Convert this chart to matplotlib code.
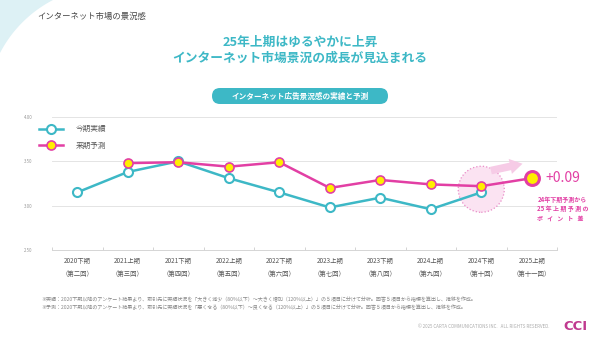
import numpy as np
import matplotlib
matplotlib.use("Agg")
import matplotlib.pyplot as plt
from matplotlib.patches import Polygon, FancyBboxPatch
from matplotlib.transforms import offset_copy, IdentityTransform

plt.rcParams['font.family'] = ['Noto Sans CJK JP', 'DejaVu Sans']

# data
periods = ['2020下期', '2021上期', '2021下期', '2022上期', '2022下期',
           '2023上期', '2023下期', '2024上期', '2024下期', '2025上期']
rounds = ['第二回', '第三回', '第四回', '第五回', '第六回',
          '第七回', '第八回', '第九回', '第十回', '第十一回']
actual = [3.15, 3.38, 3.50, 3.31, 3.15, 2.98, 3.09, 2.96, 3.15, np.nan]
forecast = [np.nan, 3.48, 3.49, 3.44, 3.49, 3.20, 3.29, 3.24, 3.22, 3.31]
yticks = [2.50, 3.00, 3.50, 4.00]

TEAL = '#3DB8C6'
PINK = '#E23FA4'
YELLOW = '#FFEE00'
GRAY = '#555555'

W, H = 600, 345
fig = plt.figure(figsize=(6, 3.45), dpi=100)
fig.patch.set_facecolor('white')

# decorative corner shape: corner minus a big circle (pixel coords, y downward)
c, r = 110, np.hypot(110 - 53, 110)
ang = np.linspace(np.arctan2(-110, 53 - 110), np.arctan2(53 - 110, -110), 60)
arc = [(c + r * np.cos(a), c + r * np.sin(a)) for a in ang]
pts = [(px, H - py) for px, py in [(0, 0)] + arc]
fig.add_artist(Polygon(pts, closed=True, transform=IdentityTransform(),
                       facecolor='#DDF1F5', edgecolor='none', zorder=0))

fig.text(37 / W, 1 - 16 / H, 'インターネット市場の景況感', fontsize=6,
         color='#444444', va='center', ha='left')
fig.text(0.5, 1 - 42 / H, '25年上期はゆるやかに上昇', fontsize=9.2,
         color=TEAL, fontweight='bold', ha='center', va='center')
fig.text(0.5, 1 - 58 / H, 'インターネット市場景況の成長が見込まれる', fontsize=9.2,
         color=TEAL, fontweight='bold', ha='center', va='center')
fig.add_artist(FancyBboxPatch((212, H - 104), 176, 16, transform=IdentityTransform(),
                              boxstyle='round,pad=0,rounding_size=8',
                              facecolor=TEAL, edgecolor='none'))
fig.text(0.5, 1 - 96 / H, 'インターネット広告景況感の実績と予測', fontsize=5.5,
         color='white', fontweight='bold', ha='center', va='center')

ax = fig.add_axes([52 / W, 1 - 250 / H, 505 / W, 133 / H])
x = np.arange(len(periods))

ax.plot(x, actual, color=TEAL, lw=1.8, marker='o', ms=6.5, mfc='white',
        mec=TEAL, mew=1.5, label='今期実績', zorder=3)
ax.plot(x, forecast, color=PINK, lw=1.8, marker='o', ms=6.5, mfc=YELLOW,
        mec=PINK, mew=1.2, label='来期予測', zorder=4)
# last forecast point is drawn larger
ax.plot(x[-1], forecast[-1], marker='o', ms=10, mfc=YELLOW, mec=PINK,
        mew=2.2, zorder=5)

# highlight around 2024下期
mid = (actual[8] + forecast[8]) / 2
ax.scatter([x[8]], [mid], s=1100, facecolor='#FBE3F2', edgecolor='#E98BC7',
           linewidths=0.9, linestyles=':', zorder=2)
tr_a = offset_copy(ax.transData, fig=fig, x=7, y=15, units='dots')
tr_b = offset_copy(ax.transData, fig=fig, x=44, y=23, units='dots')
ax.annotate('', xy=(x[8], forecast[8]), xycoords=tr_b,
            xytext=(x[8], forecast[8]), textcoords=tr_a,
            arrowprops=dict(arrowstyle='simple,head_width=1.1,head_length=0.9,tail_width=0.55',
                            fc='#F6CBE6', ec='none'), zorder=2)

diff = forecast[9] - forecast[8]
ax.annotate(f'+{diff:.2f}', xy=(x[9], forecast[9]), xytext=(10, 0),
            textcoords='offset points', fontsize=10, color=PINK,
            va='center', ha='left', annotation_clip=False)
note = ['24年下期予測から', '25 年 上 期 予 測 の', 'ポ   イ   ン   ト   差']
for i, line in enumerate(note):
    ax.annotate(line, xy=(x[9], forecast[9]), xytext=(4, -15 - i * 7),
                textcoords='offset points', fontsize=4.3, color=PINK,
                fontweight='bold', va='center', ha='left', annotation_clip=False)

ax.set_xlim(-0.5, len(periods) - 0.5)
ax.set_ylim(2.5, 4.0)
ax.set_yticks(yticks)
ax.set_yticklabels([f'{v:.2f}' for v in yticks], fontsize=3.2, color='#999999')
ax.tick_params(axis='y', length=0, pad=14)
ax.grid(axis='y', color='#E4E4E4', lw=0.7)
ax.set_axisbelow(True)

ax.set_xticks(x)
ax.set_xticklabels([f'{p}\n（{r}）' for p, r in zip(periods, rounds)],
                   fontsize=4.6, color=GRAY, linespacing=1.9)
ax.tick_params(axis='x', length=0, pad=5)
ax.set_xticks(np.arange(-0.5, len(periods)), minor=True)
ax.tick_params(axis='x', which='minor', length=2, color='#CCCCCC', direction='in')

for s in ['top', 'right', 'left']:
    ax.spines[s].set_visible(False)
ax.spines['bottom'].set_color('#D5D5D5')
ax.spines['bottom'].set_linewidth(0.7)

leg = ax.legend(loc='upper left', bbox_to_anchor=(-0.04, 0.99), frameon=False,
                fontsize=5.5, handlelength=3.2, labelspacing=1.1, handletextpad=1.6)
for t in leg.get_texts():
    t.set_color(GRAY)

notes = [
    '※実績：2020下期以降のアンケート結果より、取引先に実績状況を「大きく減少（80%以下）～大きく増加（120%以上）」の５項目に分けて分析。回答５項目から指標を算出し、推移を作成。',
    '※予測：2020下期以降のアンケート結果より、取引先に実績状況を「悪くなる（80%以下）～良くなる（120%以上）」の５項目に分けて分析。回答５項目から指標を算出し、推移を作成。',
]
for i, n in enumerate(notes):
    fig.text(41 / W, 1 - (300 + i * 7.5) / H, n, fontsize=3.65,
             color='#888888', va='center', ha='left')

fig.text(550 / W, 1 - 326 / H, '© 2025 CARTA COMMUNICATIONS INC.   ALL RIGHTS RESERVED.',
         fontsize=3.2, color='#AAAAAA', ha='right', va='center')
fig.text(563 / W, 1 - 326 / H, 'CCI', fontsize=9.5, fontweight='bold',
         color='#C0398F', ha='left', va='center', family='DejaVu Sans')

fig.savefig('out.png', dpi=100)
